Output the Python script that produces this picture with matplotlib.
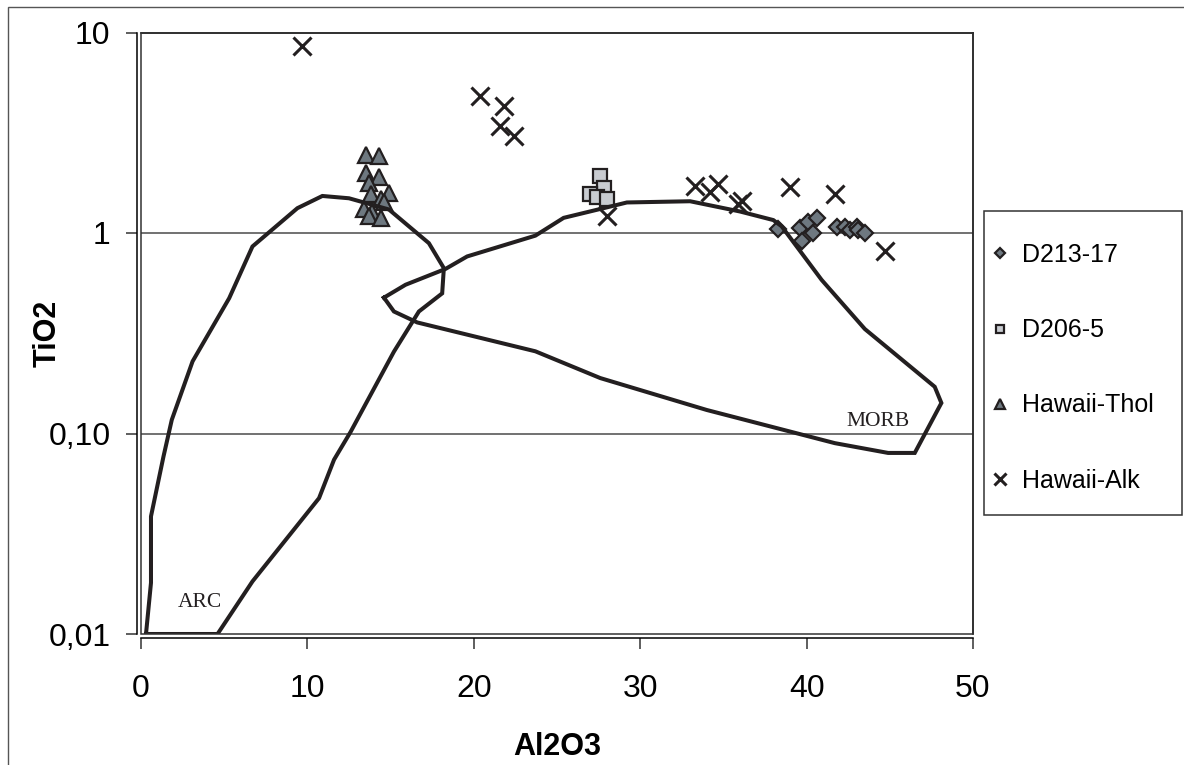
import matplotlib
matplotlib.use("Agg")
import matplotlib.pyplot as plt
from matplotlib.patches import Rectangle

plt.rcParams['font.family'] = ['Liberation Sans', 'DejaVu Sans']

# sample data (Al2O3, TiO2)
d213_x = [38.3, 39.6, 39.7, 40.1, 40.6, 40.4, 41.8, 42.3, 42.6, 43.0, 43.1, 43.5]
d213_y = [1.05, 1.06, 0.91, 1.13, 1.19, 1.00, 1.07, 1.07, 1.03, 1.07, 1.03, 1.00]

d206_x = [27.6, 27.8, 27.0, 27.4, 28.0]
d206_y = [1.93, 1.67, 1.56, 1.52, 1.48]

thol_x = [13.5, 14.3, 13.5, 14.3, 13.7, 14.9, 13.8, 14.4, 13.4, 13.9, 13.7, 14.4, 14.6]
thol_y = [2.45, 2.43, 2.00, 1.91, 1.77, 1.59, 1.56, 1.47, 1.31, 1.28, 1.22, 1.19, 1.42]

alk_x = [9.7, 20.4, 21.8, 21.6, 22.4, 28.0, 33.3, 34.2, 34.7, 35.9, 36.1, 39.0, 41.7, 44.7]
alk_y = [8.6, 4.8, 4.3, 3.4, 3.05, 1.21, 1.71, 1.61, 1.75, 1.39, 1.44, 1.69, 1.57, 0.81]

# field outlines
arc_x = [0.3, 4.6, 6.7, 10.7, 11.6, 12.6, 15.2, 16.7, 18.1, 18.2, 17.3, 14.9,
         12.5, 10.9, 9.4, 6.7, 5.3, 3.1, 1.85, 1.35, 0.6, 0.6, 0.3]
arc_y = [0.01, 0.01, 0.0183, 0.0476, 0.074, 0.102, 0.256, 0.406, 0.50, 0.668, 0.89, 1.31,
         1.49, 1.53, 1.33, 0.857, 0.473, 0.229, 0.117, 0.0767, 0.0386, 0.018, 0.01]

morb_x = [14.6, 15.9, 18.3, 19.6, 23.7, 25.4, 27.8, 29.2, 33.0, 36.0, 38.0, 38.5, 40.9,
          43.5, 47.7, 48.1, 46.5, 44.9, 41.7, 34.0, 27.6, 23.7, 16.6, 15.2, 14.6]
morb_y = [0.476, 0.552, 0.662, 0.764, 0.97, 1.19, 1.33, 1.42, 1.44, 1.28, 1.16, 1.08, 0.584,
          0.332, 0.171, 0.142, 0.080, 0.080, 0.0895, 0.131, 0.189, 0.257, 0.358, 0.406, 0.476]

y_ticks = [0.01, 0.1, 1, 10]
y_tick_labels = ['0,01', '0,10', '1', '10']
x_ticks = [0, 10, 20, 30, 40, 50]

edge = '#231f20'
W, H = 1184, 765

fig = plt.figure(figsize=(11.84, 7.65), dpi=100)
ax = fig.add_axes([141 / W, 1 - 634 / H, 832 / W, 601.5 / H])

ax.set_yscale('log')
ax.set_xlim(0, 50)
ax.set_ylim(0.01, 10)

# grid lines at 1 and 0.1
for g in [0.1, 1]:
    ax.axhline(g, color='#4a4a4a', lw=1.1, zorder=1)

ax.plot(d213_x, d213_y, ls='none', marker='D', ms=8.5, mfc='#6e7880', mec=edge,
        mew=1.6, label='D213-17', zorder=3)
ax.plot(d206_x, d206_y, ls='none', marker='s', ms=9.5, mfc='#c9ccd1', mec=edge,
        mew=1.6, label='D206-5', zorder=3)
ax.plot(thol_x, thol_y, ls='none', marker='^', ms=11, mfc='#6e7880', mec=edge,
        mew=1.6, label='Hawaii-Thol', zorder=3)
ax.plot(alk_x, alk_y, ls='none', marker='x', ms=12.5, color=edge, mew=2.2,
        label='Hawaii-Alk', zorder=3)

ax.plot(arc_x, arc_y, color=edge, lw=2.9, zorder=4, solid_joinstyle='miter')
ax.plot(morb_x, morb_y, color=edge, lw=2.9, zorder=4, solid_joinstyle='miter')

ax.text(3.55, 0.0143, 'ARC', family='Liberation Serif', fontsize=15.5, color='#231f20',
        ha='center', va='center')
ax.text(44.3, 0.115, 'MORB', family='Liberation Serif', fontsize=15.5, color='#231f20',
        ha='center', va='center')

ax.set_yticks(y_ticks)
ax.set_yticklabels(y_tick_labels)
ax.yaxis.set_minor_locator(matplotlib.ticker.NullLocator())
ax.set_xticks(x_ticks)
ax.tick_params(axis='both', labelsize=23, length=8, width=1.1, color='#333333')
ax.tick_params(axis='y', pad=11)
ax.tick_params(axis='x', pad=18)

for s in ['left', 'bottom']:
    ax.spines[s].set_position(('outward', 3))
    ax.spines[s].set_linewidth(1.1)
for s in ['top', 'right']:
    ax.spines[s].set_linewidth(1.1)
ax.add_patch(Rectangle((0, 0), 1, 1, transform=ax.transAxes, fill=False,
                       ec='#333333', lw=1.1, clip_on=False, zorder=5))

ax.set_xlabel('Al2O3', fontsize=22, fontweight='bold', labelpad=20)
ax.set_ylabel('TiO2', fontsize=22, fontweight='bold', va='center')
ax.yaxis.set_label_coords((48 - 141) / 832, 0.5)

# legend, frame drawn separately
ax.legend(loc='upper left', bbox_to_anchor=(990 / W, 1 - 243 / H),
          bbox_transform=fig.transFigure, fontsize=18, markerscale=0.65,
          frameon=False, labelspacing=2.05, handlelength=0.8, handletextpad=0.5,
          borderpad=0, borderaxespad=0)
fig.add_artist(Rectangle((984 / W, 1 - 515 / H), 198 / W, 304 / H,
                         transform=fig.transFigure, fill=False, ec='#333333', lw=1.1))

# outer chart frame
fig.add_artist(Rectangle((8 / W, -0.1), 1.2, 1.1 - 7 / H,
                         transform=fig.transFigure, fill=False, ec='#555555', lw=1.0))

fig.savefig('out.png', dpi=100)
